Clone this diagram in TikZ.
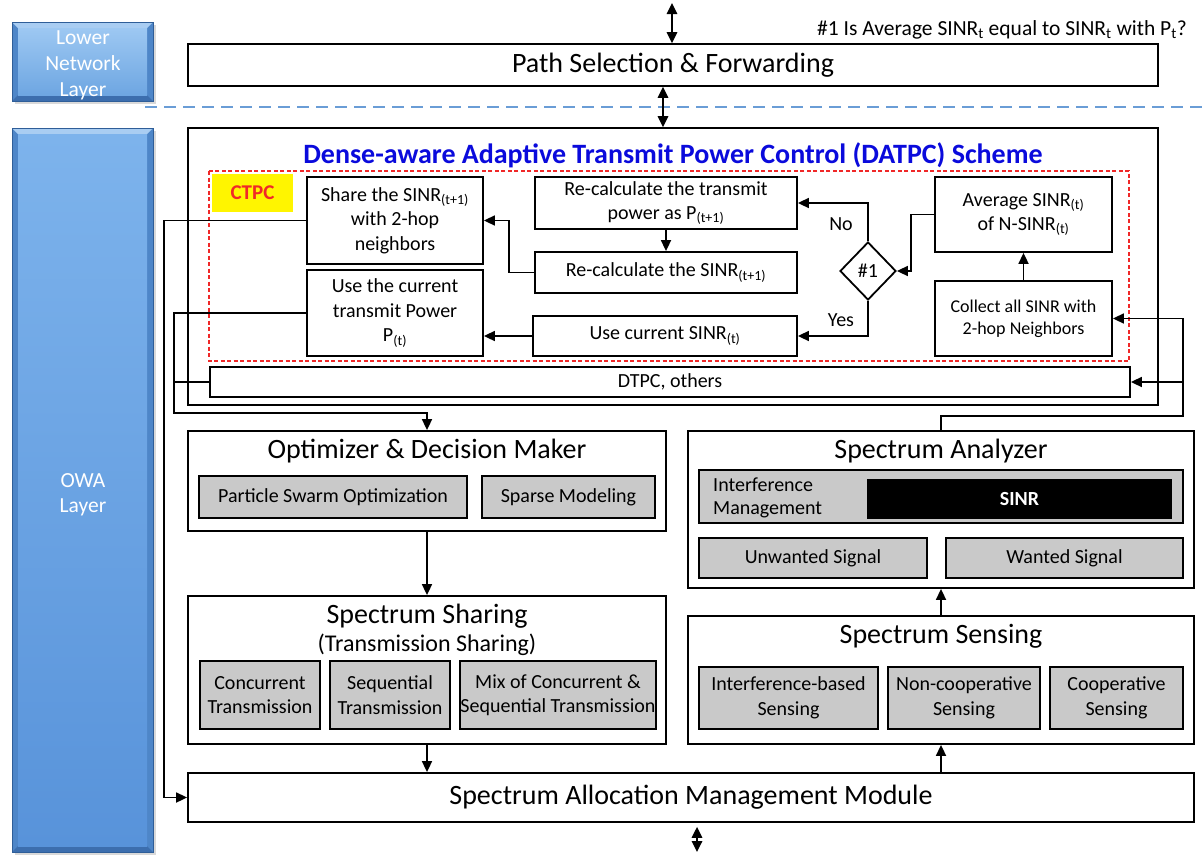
\documentclass[tikz,border=0pt]{standalone}
\usepackage{fontspec}
\setmainfont{Carlito}
\usetikzlibrary{arrows.meta,shapes.geometric,calc}

\definecolor{boxgray}{HTML}{C9C9C9}
\definecolor{titleblue}{HTML}{0A0ADC}
\definecolor{ctpcred}{HTML}{F02828}
\definecolor{ctpcyellow}{HTML}{FFF500}
\definecolor{sepblue}{HTML}{6A9DD6}
\definecolor{bevelside}{HTML}{4E86C8}
\definecolor{beveltop}{HTML}{A9CDF2}
\definecolor{bevelbot}{HTML}{3C6EAE}
\definecolor{bevelline}{HTML}{2F5E98}
\definecolor{lowtop}{HTML}{9DC8F2}
\definecolor{lowbot}{HTML}{6EA6E2}
\definecolor{owatop}{HTML}{7DB3EC}
\definecolor{owabot}{HTML}{5893DA}

\newcommand\fbig{\fontsize{28}{32}\selectfont}
\newcommand\fmid{\fontsize{20}{24.5}\selectfont}
\newcommand\fsmall{\fontsize{18}{22}\selectfont}

% bevelled blue layer panel: x1 y1 x2 y2 top-colour bottom-colour
\newcommand\layerpanel[6]{%
  \fill[black,opacity=0.15] (#1+3,#2+3) rectangle (#3+3,#4+3);
  \fill[bevelside] (#1,#2) rectangle (#3,#4);
  \fill[beveltop] (#1,#2) -- (#3,#2) -- (#3-6,#2+6) -- (#1+6,#2+6) -- cycle;
  \fill[bevelbot] (#1,#4) -- (#3,#4) -- (#3-6,#4-6) -- (#1+6,#4-6) -- cycle;
  \shade[top color=#5,bottom color=#6] (#1+6,#2+6) rectangle (#3-6,#4-6);
  \draw[bevelline,line width=0.8pt] (#1,#2) rectangle (#3,#4);
}

\tikzset{
  wbox/.style={draw, line width=1.8pt, fill=white, inner sep=0pt, align=center, font=\fmid},
  gbox/.style={wbox, fill=boxgray},
  arr/.style={line width=1.7pt, -{Triangle[length=11pt,width=10pt]}},
  link/.style={line width=1.7pt},
  dbl/.style={line width=1.7pt, {Triangle[length=11pt,width=10.5pt]}-{Triangle[length=11pt,width=10.5pt]}},
  lbl/.style={font=\fmid, inner sep=0pt},
  heading/.style={font=\fbig, inner sep=0pt},
}

\begin{document}
\begin{tikzpicture}[x=1pt,y=-1pt]
\useasboundingbox (0,0) rectangle (1204,854);
\fill[white] (0,0) rectangle (1204,854);

% layer panels on the left
\layerpanel{12}{22}{153}{101}{lowtop}{lowbot}
\layerpanel{12}{128}{153}{852}{owatop}{owabot}
\node[font=\fontsize{21.5}{26}\selectfont, text=white, align=center, inner sep=0pt] (lowlbl) at (83,65) {Lower\\Network\\Layer};
\node[font=\fontsize{21.5}{25}\selectfont, text=white, align=center, inner sep=0pt] (owalbl) at (83,495) {OWA\\Layer};

% separator between the layers
\draw[sepblue, line width=1.5pt, dash pattern=on 12pt off 7pt] (145,107) -- (1204,107);

% decision note
\node[lbl, anchor=east, font=\fontsize{21.5}{25}\selectfont] (note) at (1187,30) {\#1 Is Average SINR\textsubscript{t} equal to SINR\textsubscript{t} with P\textsubscript{t}?};

% lower network layer
\node[wbox, font=\fbig, minimum width=970, minimum height=42] (path) at (673,65) {Path Selection \& Forwarding};
\coordinate (topend) at (672,3);
\draw[dbl] (topend) -- (topend |- path.north);

% DATPC scheme
\node[wbox, minimum width=970, minimum height=277] (datpc) at (673,266.5) {};
\draw[dbl] ($(path.south)+(-10,0)$) -- ($(datpc.north)+(-10,0)$);
\node[heading, font=\fbig\bfseries, text=titleblue] (dtitle) at (673,155) {Dense-aware Adaptive Transmit Power Control (DATPC) Scheme};
\draw[ctpcred, line width=1.3pt, dash pattern=on 4pt off 2.5pt] (209,171) rectangle (1129,361);
\node[fill=ctpcyellow, minimum width=81, minimum height=38, inner sep=0pt, font=\fontsize{21}{25}\selectfont\bfseries, text=ctpcred] (ctpc) at (252.5,193) {CTPC};

\node[wbox, minimum width=176, minimum height=87] (share) at (395,220.5) {Share the SINR\textsubscript{(t+1)}\\with 2-hop\\neighbors};
\node[wbox, minimum width=176, minimum height=86] (usep) at (395,313) {Use the current\\transmit Power\\P\textsubscript{(t)}};
\node[wbox, minimum width=262, minimum height=52] (rtx) at (666,203) {Re-calculate the transmit\\power as P\textsubscript{(t+1)}};
\node[wbox, minimum width=262, minimum height=41] (rsinr) at (666,272.5) {Re-calculate the SINR\textsubscript{(t+1)}};
\node[wbox, minimum width=264, minimum height=40] (usesinr) at (665,336) {Use current SINR\textsubscript{(t)}};
\node[wbox, shape=diamond, minimum width=56, minimum height=58] (dec) at (868,271) {\#1};
\node[wbox, minimum width=177, minimum height=75] (avg) at (1023.5,214.5) {Average SINR\textsubscript{(t)}\\of N-SINR\textsubscript{(t)}};
\node[wbox, font=\fsmall, minimum width=177, minimum height=75] (collect) at (1023.5,318.5) {Collect all SINR with\\2-hop Neighbors};
\node[wbox, minimum width=920, minimum height=30] (dtpc) at (670,382) {DTPC, others};

\draw[arr] (rtx.south) -- (rsinr.north);
\draw[arr] (rsinr.west) -- ++(-25,0) |- (share.east);
\draw[arr] (usesinr.west) -- (usesinr.west -| usep.east);
\draw[arr] (dec.north) |- (rtx.east);
\draw[arr] (dec.south) |- (usesinr.east);
\draw[arr] (avg.west) -- ++(-23,0) |- (dec.east);
\draw[arr] (collect.north) -- (avg.south);
\node[lbl] (nolbl) at (841,224) {No};
\node[lbl] (yeslbl) at (841,320) {Yes};

% optimizer
\node[wbox, minimum width=478, minimum height=100] (opt) at (427,481) {};
\node[heading] (opttitle) at (427,451) {Optimizer \& Decision Maker};
\node[gbox, minimum width=268, minimum height=42] (pso) at (333,497) {Particle Swarm Optimization};
\node[gbox, minimum width=173, minimum height=42] (sparse) at (568.5,497) {Sparse Modeling};

% spectrum sharing
\node[wbox, minimum width=478, minimum height=148] (sharing) at (427,670) {};
\node[heading] (shtitle) at (427,616) {Spectrum Sharing};
\node[heading, font=\fontsize{24}{28}\selectfont] (shsub) at (427,645) {(Transmission Sharing)};
\node[gbox, minimum width=120, minimum height=68] (conc) at (260,695) {Concurrent\\Transmission};
\node[gbox, minimum width=120, minimum height=68] (seq) at (390,695) {Sequential\\Transmission};
\node[gbox, minimum width=196, minimum height=68] (mix) at (558,695) {Mix of Concurrent \&\\Sequential Transmission};

% spectrum analyzer
\node[wbox, minimum width=506, minimum height=157] (analyzer) at (941,509.5) {};
\node[heading] (antitle) at (941,451) {Spectrum Analyzer};
\node[gbox, minimum width=484, minimum height=53] (interf) at (941,496.5) {};
\node[lbl, anchor=west, align=left, font=\fontsize{20}{23}\selectfont] (imlbl) at (713,498) {Interference\\Management};
\node[fill=black, minimum width=305, minimum height=40, inner sep=0pt, text=white, font=\fmid\bfseries] (sinr) at (1019.5,499) {SINR};
\node[gbox, minimum width=228, minimum height=40] (unw) at (813,558) {Unwanted Signal};
\node[gbox, minimum width=237, minimum height=40] (want) at (1064.5,558) {Wanted Signal};

% spectrum sensing
\node[wbox, minimum width=506, minimum height=128] (sensing) at (941,680) {};
\node[heading] (setitle) at (941,636) {Spectrum Sensing};
\node[gbox, minimum width=179, minimum height=62] (ib) at (788.5,698) {Interference-based\\Sensing};
\node[gbox, minimum width=152, minimum height=62] (nc) at (964,698) {Non-cooperative\\Sensing};
\node[gbox, minimum width=133, minimum height=62] (coop) at (1116.5,698) {Cooperative\\Sensing};

% allocation module
\node[wbox, font=\fbig, minimum width=1006, minimum height=49] (alloc) at (691,797.5) {Spectrum Allocation Management Module};
\coordinate (botend) at (697,852);
\draw[dbl] ($(botend |- alloc.south)+(0,4)$) -- (botend);

% vertical flow between modules
\draw[arr] (opt.south) -- (sharing.north);
\draw[arr] (sharing.south) -- (sharing.south |- alloc.north);
\draw[arr] (sensing.north) -- (analyzer.south);
\draw[arr] (alloc.north -| sensing.south) -- (sensing.south);

% feedback wiring on the left
\draw[arr] (share.west) -- ++(-142,0) |- (alloc.west);
\draw[arr] (usep.west) -- ++(-132,0) -- ++(0,100) -| (opt.north);
\draw[link] (dtpc.west) -- ++(-35,0);

% feedback wiring on the right
\coordinate (tap) at (1183,382);
\draw[arr] (analyzer.north) -- ++(0,-14) -- ++(242,0) |- (collect.east);
\draw[arr] (tap) -- (dtpc.east);
\end{tikzpicture}
\end{document}
